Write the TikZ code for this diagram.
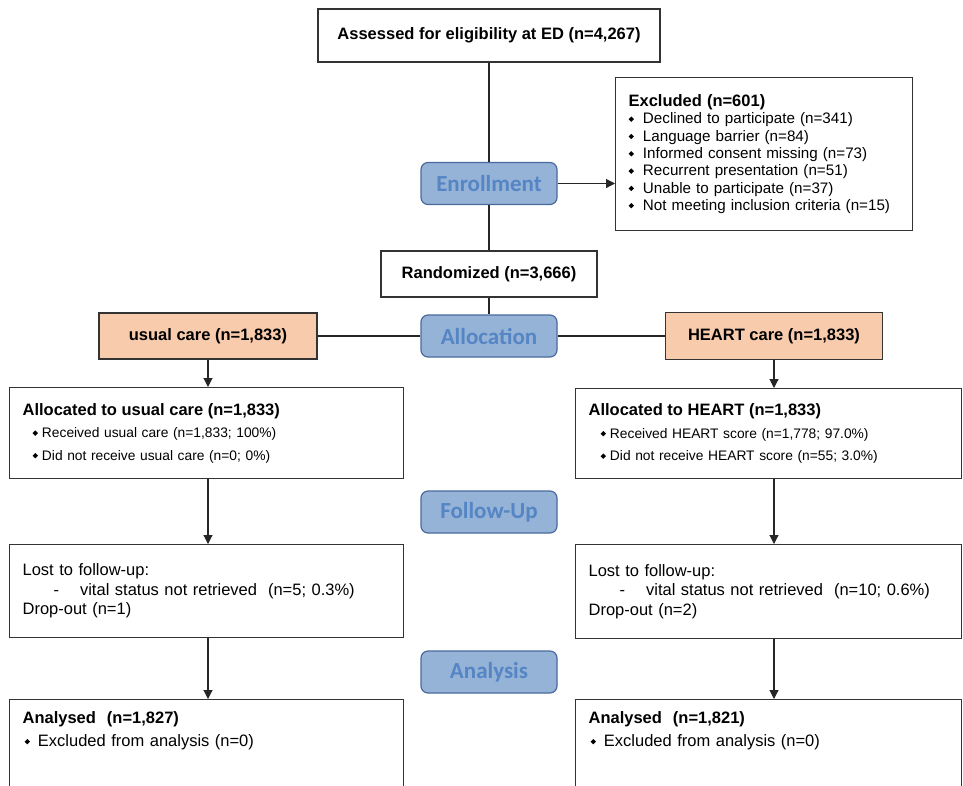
\documentclass[tikz,border=0pt]{standalone}
\usepackage{fontspec}
\setmainfont{Liberation Sans}
\newfontfamily\stagefont{Carlito}
\usepackage{graphicx}
\usetikzlibrary{arrows.meta}

\definecolor{stagefill}{HTML}{95B3D7}
\definecolor{stageline}{HTML}{4A6A9E}
\definecolor{stagetext}{HTML}{5585C4}
\definecolor{armfill}{HTML}{F8CBAD}
\definecolor{boxline}{HTML}{333333}

\newcommand{\bul}[1][4pt]{\raisebox{0.25ex}{\rotatebox{45}{\rule{3.8pt}{3.8pt}}}\hspace{#1}}
\newcommand{\hd}[1]{{\fontsize{16.5}{20}\selectfont\bfseries #1}}

\tikzset{
  box/.style={draw=boxline,line width=1.2pt,fill=white,inner xsep=13pt,align=left,anchor=north west},
  midbox/.style={draw=boxline,line width=1.2pt,fill=white,font=\fontsize{16.5}{20}\selectfont\bfseries},
  arm/.style={midbox,fill=armfill},
  stage/.style={draw=stageline,line width=1.2pt,fill=stagefill,rounded corners=7pt,
    minimum width=136pt,minimum height=42pt,text=stagetext,font=\stagefont\fontsize{23}{26}\selectfont\bfseries},
  link/.style={line width=1.1pt,draw=black!85},
  arr/.style={link,-{Triangle[width=9pt,length=9pt]}}
}

\begin{document}
\begin{tikzpicture}[x=1pt,y=-1pt]
\useasboundingbox[fill=white] (0,0) rectangle (963,785);

\node[midbox,minimum width=342pt,minimum height=53pt] (assess) at (489,35.5) {Assessed for eligibility at ED (n=4,267)};

\node[box,text width=271pt,minimum height=153pt,font=\fontsize{15.2}{17.3}\selectfont] (excl) at (615,77)
 {\hd{Excluded (n=601)}\\
  \bul[9pt]Declined to participate (n=341)\\
  \bul[9pt]Language barrier (n=84)\\
  \bul[9pt]Informed consent missing (n=73)\\
  \bul[9pt]Recurrent presentation (n=51)\\
  \bul[9pt]Unable to participate (n=37)\\
  \bul[9pt]Not meeting inclusion criteria (n=15)};

\node[midbox,minimum width=216pt,minimum height=46pt] (rand) at (489,274) {Randomized (n=3,666)};

\foreach \name/\txt/\y in {enroll/Enrollment/183.5, alloc/Allocation/336, follow/Follow-Up/512, analysis/Analysis/672}
  \node[stage] (\name) at (489,\y) {\txt};

\node[arm,minimum width=218pt,minimum height=46pt] (usual) at (208,336) {usual care (n=1,833)};
\node[arm,minimum width=217pt,minimum height=47pt] (heart) at (774,336) {HEART care (n=1,833)};

\node[box,text width=368pt,minimum height=91pt,font=\fontsize{13.8}{22.5}\selectfont] (allocU) at (9,387)
 {\hd{Allocated to usual care (n=1,833)}\\
  \hspace*{10pt}\bul Received usual care (n=1,833; 100\%)\\
  \hspace*{10pt}\bul Did not receive usual care (n=0; 0\%)};
\node[box,text width=360pt,minimum height=90pt,font=\fontsize{13.8}{22.5}\selectfont] (allocH) at (575,388)
 {\hd{Allocated to HEART (n=1,833)}\\
  \hspace*{12pt}\bul Received HEART score (n=1,778; 97.0\%)\\
  \hspace*{12pt}\bul Did not receive HEART score (n=55; 3.0\%)};

\node[box,text width=368pt,minimum height=93pt,font=\fontsize{16.5}{19.5}\selectfont] (lostU) at (9,544)
 {Lost to follow-up:\\
  \hspace*{31pt}-\hspace{21pt}vital status not retrieved\ \ (n=5; 0.3\%)\\
  Drop-out (n=1)\\[6pt]};
\node[box,text width=360pt,minimum height=94pt,font=\fontsize{16.5}{19.5}\selectfont] (lostH) at (575,544)
 {Lost to follow-up:\\
  \hspace*{31pt}-\hspace{21pt}vital status not retrieved\ \ (n=10; 0.6\%)\\
  Drop-out (n=2)\\[6pt]};

\node[box,text width=368pt,text depth=90pt,inner ysep=12pt,font=\fontsize{16.5}{23}\selectfont] (anaU) at (9,699)
 {\hd{Analysed\ \ (n=1,827)}\\
  \hspace*{2pt}\bul[8pt]Excluded from analysis (n=0)};
\node[box,text width=360pt,text depth=90pt,inner ysep=12pt,font=\fontsize{16.5}{23}\selectfont] (anaH) at (575,699)
 {\hd{Analysed\ \ (n=1,821)}\\
  \hspace*{2pt}\bul[8pt]Excluded from analysis (n=0)};

\draw[link] (assess.south) -- (enroll.north);
\draw[link] (enroll.south) -- (rand.north);
\draw[arr] (enroll.east) -- (enroll.east -| excl.west);
\draw[link] (rand.south) -- (alloc.north);
\draw[link] (usual.east) -- (alloc.west);
\draw[link] (alloc.east) -- (heart.west);

\draw[arr] (usual.south) -- (usual.south |- allocU.north);
\draw[arr] (heart.south) -- (heart.south |- allocH.north);
\draw[arr] (usual.south |- allocU.south) -- (usual.south |- lostU.north);
\draw[arr] (heart.south |- allocH.south) -- (heart.south |- lostH.north);
\draw[arr] (usual.south |- lostU.south) -- (usual.south |- anaU.north);
\draw[arr] (heart.south |- lostH.south) -- (heart.south |- anaH.north);

\end{tikzpicture}
\end{document}
